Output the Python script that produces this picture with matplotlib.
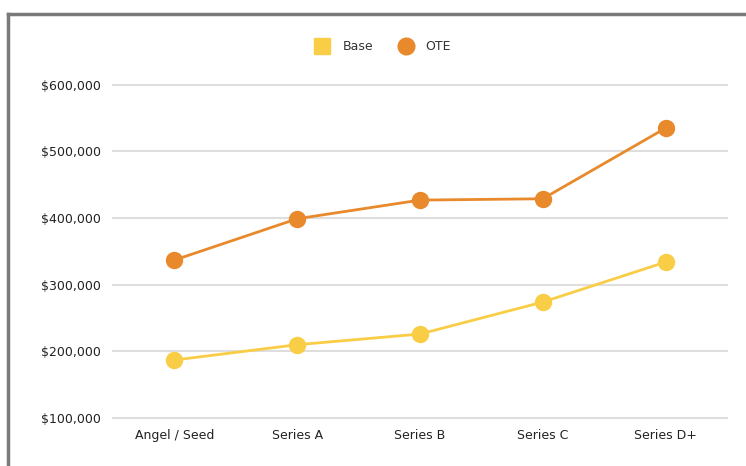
import numpy as np
import matplotlib
matplotlib.use("Agg")
import matplotlib.pyplot as plt
from matplotlib.lines import Line2D
from matplotlib.ticker import FuncFormatter

# salary by funding stage
stages = ["Angel / Seed", "Series A", "Series B", "Series C", "Series D+"]
base = [187000, 210000, 226000, 274000, 334000]
ote = [337000, 399000, 427000, 429000, 535000]
yticks = [100000, 200000, 300000, 400000, 500000, 600000]

base_color = "#F9CD45"
ote_color = "#E8892B"

fig = plt.figure(figsize=(7.46, 4.66), dpi=100)
ax = fig.add_axes([0.1515, 0.103, 0.823, 0.715])

x = np.arange(len(stages))
ax.plot(x, base, color=base_color, lw=2.0, marker="o", ms=11.5, zorder=3)
ax.plot(x, ote, color=ote_color, lw=2.0, marker="o", ms=11.5, zorder=3)

ax.set_xlim(-0.5, len(stages) - 0.5)
ax.set_ylim(100000, 600000)
ax.set_yticks(yticks)
ax.yaxis.set_major_formatter(FuncFormatter(lambda v, p: "${:,.0f}".format(v)))
ax.set_xticks(x)
ax.set_xticklabels(stages)
ax.grid(axis="y", color="#DEDEDE", lw=1.5)
for gl in ax.get_ygridlines():
    gl.set_clip_on(False)
ax.set_axisbelow(True)
for s in ax.spines.values():
    s.set_visible(False)
ax.tick_params(length=0, labelsize=9, colors="#222222")
ax.tick_params(axis="x", pad=8)
ax.tick_params(axis="y", pad=9)

handles = [
    Line2D([], [], ls="none", marker="s", ms=11, color=base_color),
    Line2D([], [], ls="none", marker="o", ms=12, color=ote_color),
]
fig.legend(handles, ["Base", "OTE"], loc="center", bbox_to_anchor=(0.51, 0.9),
           ncol=2, frameon=False, fontsize=9, handletextpad=0.6,
           columnspacing=1.6, labelcolor="#333333")

# outer frame along top and left
fig.add_artist(Line2D([8 / 746, 1], [1 - 14 / 466] * 2, color="#7A7A7A", lw=2.5))
fig.add_artist(Line2D([8 / 746] * 2, [0, 1 - 14 / 466], color="#7A7A7A", lw=2.5))

fig.savefig("out.png", dpi=100)
